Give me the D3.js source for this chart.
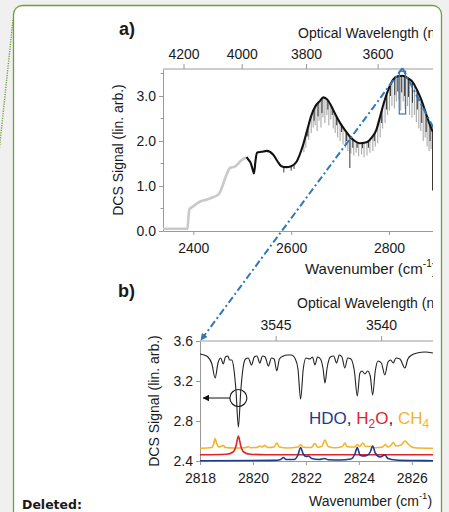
<!DOCTYPE html>
<html><head><meta charset="utf-8">
<script src="https://cdn.jsdelivr.net/npm/d3@7"></script>
<style>
body{margin:0;background:#f0f0f0}
svg{display:block}
text{font-family:"Liberation Sans",Arial,sans-serif;fill:#1a1a1a}
</style>
</head><body>
<svg id="c" width="449" height="512"></svg>
<script>
// ---------- Panel a: broadband DCS spectrum ----------
const aTicksX = [2400, 2600, 2800];
const aTicksY = [0, 1, 2, 3];
const aMinorY = [0.5, 1.5, 2.5, 3.5];
const aWavelengthTicks = [4200, 4000, 3800, 3600];

// grey (low-signal) portion of the spectrum: [wavenumber, signal]
const aGreyTrace = [
  [2338,0.05],[2360,0.05],[2388,0.05],[2390,0.30],[2392,0.48],[2400,0.55],[2413,0.65],
  [2428,0.70],[2440,0.75],[2452,0.82],[2458,0.95],[2466,1.20],[2475,1.40],[2485,1.43],
  [2492,1.50],[2499,1.58],[2510,1.64]
];
// black portion of the spectrum envelope: [wavenumber, signal]
const aBlackTrace = [
  [2509,1.64],[2513,1.58],[2517,1.52],[2521,1.38],[2524,1.28],[2527,1.55],[2530,1.74],
  [2540,1.76],[2550,1.78],[2563,1.70],[2572,1.55],[2580,1.44],[2590,1.42],[2600,1.44],
  [2611,1.54],[2624,1.90],[2633,2.25],[2641,2.56],[2650,2.78],[2658,2.88],[2666,2.97],
  [2674,2.92],[2682,2.78],[2690,2.60],[2699,2.42],[2710,2.24],[2720,2.10],[2730,2.00],
  [2740,1.95],[2754,1.97],[2765,2.08],[2774,2.24],[2782,2.55],[2791,2.90],[2800,3.18],
  [2808,3.36],[2818,3.44],[2828,3.45],[2838,3.40],[2849,3.30],[2858,3.12],[2866,2.92],
  [2876,2.60],[2884,2.35],[2890,2.20]
];
// absorption lines dipping below the envelope: [wavenumber, lowest signal]
const aGreyLines = [
  [2626,1.75],[2630,1.85],[2636,2.02],[2641,2.18],[2645,2.30],[2649,2.35],[2653,2.22],
  [2657,2.45],[2661,2.30],[2665,2.52],[2669,2.40],[2673,2.58],[2677,2.35],[2681,2.48],
  [2686,2.28],[2690,2.18],[2695,2.08],[2700,2.00],[2706,1.92],[2711,1.85],[2716,1.78],
  [2722,1.72],[2728,1.68],[2733,1.74],[2738,1.66],[2744,1.70],[2749,1.64],[2755,1.68],
  [2761,1.74],[2767,1.78],[2772,1.88],[2777,1.95],[2782,2.08],[2787,2.28],[2792,2.40],
  [2797,2.58],[2801,2.68],[2806,2.78],[2811,2.72],[2815,2.88],[2820,2.92],[2824,2.68],
  [2829,2.88],[2833,2.72],[2838,2.78],[2842,2.58],[2847,2.52],[2852,2.58],[2856,2.42],
  [2861,2.28],[2865,2.22],[2870,2.00],[2874,2.08],[2878,1.88],[2882,1.78],[2886,1.82]
];
const aBlackLines = [
  [2585,1.30],[2600,1.34],[2606,1.38],[2634,2.10],[2647,2.45],[2655,2.55],[2663,2.62],
  [2675,2.70],[2684,2.58],[2693,2.35],[2703,2.20],[2713,2.00],[2720,1.40],[2726,1.85],
  [2735,1.85],[2746,1.84],[2758,1.85],[2770,2.00],[2785,2.40],[2795,2.70],[2803,3.00],
  [2812,3.02],[2818,3.10],[2826,3.08],[2832,3.00],[2840,2.98],[2848,2.85],[2858,2.70],
  [2867,2.40],[2876,2.20],[2884,2.00],[2889,0.90]
];
// region magnified in panel b: wavenumber span and signal span
const zoomBoxX = [2821, 2834];
const zoomBoxY = [2.6, 3.55];

// ---------- Panel b: high-resolution detail ----------
const bTicksX = [2818, 2820, 2822, 2824, 2826];
const bTicksY = [2.4, 2.8, 3.2, 3.6];
const bWavelengthTicks = [3545, 3540];

const bMeasured = [
  [2818.00,3.47],[2818.15,3.46],[2818.30,3.44],[2818.45,3.37],[2818.57,3.23],[2818.68,3.38],
  [2818.78,3.43],[2818.88,3.37],[2818.96,3.44],[2819.05,3.45],[2819.12,3.41],[2819.20,3.41],
  [2819.28,3.32],[2819.36,3.10],[2819.45,2.74],[2819.54,3.10],[2819.62,3.32],[2819.72,3.42],
  [2819.82,3.43],[2819.95,3.36],[2820.05,3.44],[2820.15,3.45],[2820.26,3.38],[2820.36,3.45],
  [2820.46,3.44],[2820.58,3.35],[2820.70,3.43],[2820.80,3.42],[2820.90,3.30],[2821.00,3.42],
  [2821.15,3.45],[2821.30,3.46],[2821.45,3.46],[2821.60,3.42],[2821.70,3.32],[2821.80,3.02],
  [2821.90,3.32],[2822.00,3.43],[2822.15,3.42],[2822.25,3.44],[2822.34,3.36],[2822.44,3.44],
  [2822.55,3.42],[2822.65,3.32],[2822.72,3.18],[2822.80,3.33],[2822.92,3.44],[2823.05,3.45],
  [2823.16,3.38],[2823.26,3.46],[2823.36,3.44],[2823.47,3.33],[2823.58,3.43],[2823.70,3.42],
  [2823.83,3.30],[2823.94,3.05],[2824.04,3.28],[2824.12,3.30],[2824.23,3.27],[2824.33,3.30],
  [2824.43,3.25],[2824.52,3.06],[2824.62,3.30],[2824.72,3.40],[2824.85,3.38],[2824.98,3.26],
  [2825.10,3.39],[2825.20,3.41],[2825.30,3.38],[2825.40,3.43],[2825.55,3.42],[2825.74,3.33],
  [2825.85,3.42],[2826.00,3.46],[2826.20,3.48],[2826.50,3.49],[2826.80,3.48]
];
const bCH4 = [
  [2818.00,2.528],[2818.45,2.535],[2818.52,2.575],[2818.57,2.625],[2818.63,2.575],[2818.72,2.540],
  [2818.82,2.550],[2818.88,2.555],[2818.95,2.535],[2819.30,2.530],[2819.75,2.535],[2819.82,2.545],
  [2819.90,2.533],[2820.15,2.535],[2820.26,2.550],[2820.35,2.540],[2820.45,2.556],[2820.55,2.535],
  [2820.80,2.540],[2820.90,2.580],[2821.00,2.540],[2821.30,2.530],[2821.70,2.540],[2821.80,2.565],
  [2821.90,2.538],[2822.20,2.535],[2822.34,2.575],[2822.45,2.538],[2822.60,2.545],[2822.72,2.610],
  [2822.84,2.545],[2823.10,2.532],[2823.38,2.545],[2823.47,2.580],[2823.56,2.542],[2823.85,2.540],
  [2823.94,2.565],[2824.03,2.545],[2824.15,2.580],[2824.25,2.545],[2824.50,2.545],[2824.60,2.533],
  [2824.90,2.540],[2825.00,2.565],[2825.10,2.540],[2825.22,2.560],[2825.30,2.585],[2825.40,2.550],
  [2825.60,2.560],[2825.74,2.600],[2825.88,2.565],[2826.00,2.540],[2826.20,2.530],[2826.80,2.528]
];
const bH2O = [
  [2818.00,2.462],[2819.00,2.468],[2819.25,2.490],[2819.36,2.550],[2819.45,2.650],[2819.54,2.550],
  [2819.65,2.490],[2819.90,2.468],[2820.50,2.463],[2826.80,2.462]
];
const bHDO = [
  [2818.00,2.403],[2820.80,2.406],[2821.05,2.415],[2821.15,2.435],[2821.25,2.415],[2821.55,2.415],
  [2821.70,2.460],[2821.80,2.535],[2821.90,2.470],[2822.02,2.445],[2822.10,2.450],[2822.22,2.425],
  [2822.50,2.415],[2822.70,2.425],[2822.85,2.412],[2823.30,2.410],[2823.70,2.420],[2823.85,2.470],
  [2823.94,2.535],[2824.04,2.460],[2824.15,2.450],[2824.30,2.455],[2824.43,2.490],[2824.52,2.550],
  [2824.62,2.480],[2824.80,2.440],[2824.98,2.460],[2825.10,2.425],[2825.40,2.410],[2826.00,2.405],
  [2826.80,2.403]
];
// highlighted line: [wavenumber, signal] and arrow target wavenumber
const bMarked = [2819.45, 3.03];
const bArrowTo = 2818.12;

const legendItems = [
  {name:"HDO", sub:"", tail:"", color:"#1f3b8c"},
  {name:"H", sub:"2", tail:"O", color:"#e0242a"},
  {name:"CH", sub:"4", tail:"", color:"#f2b42c"}
];

// ---------- drawing ----------
const svg = d3.select("#c");
const green = "#6f9f3a", axisGrey = "#9a9a9a", blue = "#2f78b8";

svg.append("rect").attr("width",449).attr("height",512).attr("fill","#f0f0f0");
svg.append("line").attr("x1",13).attr("y1",20).attr("x2",-1).attr("y2",152)
  .attr("stroke",green).attr("stroke-width",1.4).attr("stroke-dasharray","1.2,1.2");
svg.append("rect").attr("x",13.5).attr("y",5.5).attr("width",428).attr("height",515)
  .attr("rx",9).attr("fill","#fff").attr("stroke",green).attr("stroke-width",1.3);
svg.append("text").attr("x",22).attr("y",509)
  .attr("font-size",12.5).attr("font-weight","bold").style("font-family","'DejaVu Sans',Verdana,sans-serif")
  .text("Deleted:");

const defs = svg.append("defs");
defs.append("clipPath").attr("id","fig").append("rect").attr("x",0).attr("y",0).attr("width",433).attr("height",512);
defs.append("marker").attr("id","arrB").attr("viewBox","0 0 10 10").attr("refX",9).attr("refY",5)
  .attr("markerWidth",7).attr("markerHeight",7).attr("orient","auto-start-reverse").attr("markerUnits","userSpaceOnUse")
  .append("path").attr("d","M0,0L10,5L0,10z").attr("fill",blue);
defs.append("marker").attr("id","arrK").attr("viewBox","0 0 10 10").attr("refX",9).attr("refY",5)
  .attr("markerWidth",7).attr("markerHeight",7).attr("orient","auto").attr("markerUnits","userSpaceOnUse")
  .append("path").attr("d","M0,0L10,5L0,10z").attr("fill","#111");

const fig = svg.append("g").attr("clip-path","url(#fig)");

const xA = d3.scaleLinear().domain([2338, 2890]).range([163, 433]);
const yA = d3.scaleLinear().domain([0, 3.6]).range([231, 69]);
const xB = d3.scaleLinear().domain([2818, 2826.8]).range([200, 433]);
const yB = d3.scaleLinear().domain([2.4, 3.6]).range([461, 341]);

function styleAxis(g){
  g.select(".domain").attr("stroke",axisGrey);
  g.selectAll(".tick line").attr("stroke",axisGrey);
  g.selectAll(".tick text").attr("font-size",14).attr("fill","#1a1a1a")
    .style("font-family","'Liberation Sans',Arial,sans-serif");
}

// panel a axes
fig.append("g").attr("transform","translate(163,0)")
  .call(d3.axisLeft(yA).tickValues(aTicksY).tickFormat(d3.format(".1f")).tickSize(4).tickSizeOuter(0).tickPadding(3))
  .call(styleAxis);
fig.append("g").selectAll("line").data(aMinorY).join("line")
  .attr("x1",160.5).attr("x2",163).attr("y1",d=>yA(d)).attr("y2",d=>yA(d)).attr("stroke",axisGrey);
fig.append("g").attr("transform","translate(0,231)")
  .call(d3.axisBottom(xA).tickValues(aTicksX).tickFormat(d3.format("d")).tickSize(4).tickSizeOuter(0).tickPadding(8))
  .call(styleAxis);
fig.append("line").attr("x1",163).attr("x2",433).attr("y1",69).attr("y2",69).attr("stroke",axisGrey);
const topA = fig.append("g");
topA.selectAll("line").data(aWavelengthTicks).join("line")
  .attr("x1",d=>xA(1e7/d)).attr("x2",d=>xA(1e7/d)).attr("y1",69).attr("y2",64).attr("stroke",axisGrey);
topA.selectAll("text").data(aWavelengthTicks).join("text")
  .attr("x",d=>xA(1e7/d)).attr("y",59).attr("text-anchor","middle").attr("font-size",14).text(d=>d);

fig.append("text").attr("x",298).attr("y",38).attr("font-size",14).text("Optical Wavelength (nm)");
const wnA = fig.append("text").attr("x",305).attr("y",274).attr("font-size",15);
wnA.append("tspan").text("Wavenumber (cm");
wnA.append("tspan").attr("font-size",10).attr("dy",-7).text("-1");
wnA.append("tspan").attr("dy",7).text(")");
fig.append("text").attr("transform","translate(123,150) rotate(-90)").attr("text-anchor","middle")
  .attr("font-size",14).text("DCS Signal (lin. arb.)");
fig.append("text").attr("x",119).attr("y",35).attr("font-size",18).attr("font-weight","bold").text("a)");

// panel a spectrum
const lineA = d3.line().x(d=>xA(d[0])).y(d=>yA(d[1])).curve(d3.curveMonotoneX);
const envBis = d3.bisector(d=>d[0]).left;
function envAt(w){
  const i = Math.max(1, Math.min(aBlackTrace.length-1, envBis(aBlackTrace, w)));
  const p = aBlackTrace[i-1], q = aBlackTrace[i];
  return p[1] + (q[1]-p[1])*(w-p[0])/(q[0]-p[0]);
}
fig.append("path").datum(aGreyTrace).attr("d",lineA).attr("fill","none")
  .attr("stroke","#c9c9c9").attr("stroke-width",2.6);
fig.append("g").selectAll("line").data(aGreyLines).join("line")
  .attr("x1",d=>xA(d[0])).attr("x2",d=>xA(d[0])).attr("y1",d=>yA(envAt(d[0]))).attr("y2",d=>yA(d[1]))
  .attr("stroke","#a9a9a9").attr("stroke-width",1.1);
fig.append("g").selectAll("line").data(aBlackLines).join("line")
  .attr("x1",d=>xA(d[0])).attr("x2",d=>xA(d[0])).attr("y1",d=>yA(envAt(d[0]))).attr("y2",d=>yA(d[1]))
  .attr("stroke","#222").attr("stroke-width",0.9);
fig.append("path").datum(aBlackTrace).attr("d",lineA).attr("fill","none")
  .attr("stroke","#111").attr("stroke-width",2.1).attr("stroke-linejoin","round");

// panel b axes
fig.append("g").attr("transform","translate(200,0)")
  .call(d3.axisLeft(yB).tickValues(bTicksY).tickFormat(d3.format(".1f")).tickSize(4).tickSizeOuter(0).tickPadding(3))
  .call(styleAxis);
fig.append("g").attr("transform","translate(0,461)")
  .call(d3.axisBottom(xB).tickValues(bTicksX).tickFormat(d3.format("d")).tickSize(4).tickSizeOuter(0).tickPadding(8))
  .call(styleAxis);
fig.append("line").attr("x1",200).attr("x2",433).attr("y1",341).attr("y2",341).attr("stroke",axisGrey);
const topB = fig.append("g");
topB.selectAll("line").data(bWavelengthTicks).join("line")
  .attr("x1",d=>xB(1e7/d)).attr("x2",d=>xB(1e7/d)).attr("y1",341).attr("y2",336).attr("stroke",axisGrey);
topB.selectAll("text").data(bWavelengthTicks).join("text")
  .attr("x",d=>xB(1e7/d)).attr("y",330).attr("text-anchor","middle").attr("font-size",14).text(d=>d);
fig.append("text").attr("x",297).attr("y",308).attr("font-size",14).text("Optical Wavelength (nm)");
const wnB = fig.append("text").attr("x",309).attr("y",506).attr("font-size",14);
wnB.append("tspan").text("Wavenumber (cm");
wnB.append("tspan").attr("font-size",9.5).attr("dy",-7).text("-1");
wnB.append("tspan").attr("dy",7).text(")");
fig.append("text").attr("transform","translate(159,401) rotate(-90)").attr("text-anchor","middle")
  .attr("font-size",14).text("DCS Signal (lin. arb.)");
fig.append("text").attr("x",118).attr("y",297).attr("font-size",18).attr("font-weight","bold").text("b)");

// panel b traces
const lineB = d3.line().x(d=>xB(d[0])).y(d=>yB(d[1])).curve(d3.curveMonotoneX);
[[bCH4,"#f2b42c"],[bH2O,"#e0242a"],[bHDO,"#1f3b8c"]].forEach(([s,c])=>{
  fig.append("path").datum(s).attr("d",lineB).attr("fill","none").attr("stroke",c).attr("stroke-width",1.6);
});
fig.append("path").datum(bMeasured).attr("d",lineB).attr("fill","none")
  .attr("stroke","#222").attr("stroke-width",1.1);

// marked line and arrow
fig.append("circle").attr("cx",xB(bMarked[0])).attr("cy",yB(bMarked[1])).attr("r",8.5)
  .attr("fill","none").attr("stroke","#111").attr("stroke-width",1.1);
fig.append("line").attr("x1",xB(bMarked[0])-8.5).attr("y1",yB(bMarked[1]))
  .attr("x2",xB(bArrowTo)).attr("y2",yB(bMarked[1])).attr("stroke","#111").attr("stroke-width",1)
  .attr("marker-end","url(#arrK)");

// legend
const leg = fig.append("text").attr("x",309).attr("y",424).attr("font-size",17);
legendItems.forEach((it,i)=>{
  leg.append("tspan").attr("fill",it.color).text(it.name);
  if(it.sub){
    leg.append("tspan").attr("fill",it.color).attr("font-size",12).attr("dy",4).text(it.sub);
    leg.append("tspan").attr("fill",it.color).attr("dy",-4).text(it.tail);
  }
  if(i<legendItems.length-1) leg.append("tspan").attr("fill","#1a1a1a").text(", ");
});

// zoom box in panel a with connectors to panel b
const bx0 = xA(zoomBoxX[0]), bx1 = xA(zoomBoxX[1]);
fig.append("rect").attr("x",bx0).attr("y",yA(zoomBoxY[1])).attr("width",bx1-bx0)
  .attr("height",yA(zoomBoxY[0])-yA(zoomBoxY[1])).attr("fill","none").attr("stroke",blue).attr("stroke-width",1.2);
const apex = [(bx0+bx1)/2, yA(3.62)];
fig.append("line").attr("x1",apex[0]).attr("y1",apex[1]).attr("x2",xB(2818)+1).attr("y2",yB(3.6)-1)
  .attr("stroke",blue).attr("stroke-width",2).attr("stroke-dasharray","7,3,2,3").attr("marker-end","url(#arrB)");
fig.append("line").attr("x1",apex[0]).attr("y1",apex[1]).attr("x2",xB(2831)).attr("y2",yB(3.6))
  .attr("stroke",blue).attr("stroke-width",2).attr("stroke-dasharray","7,3,2,3");
</script>
</body></html>
